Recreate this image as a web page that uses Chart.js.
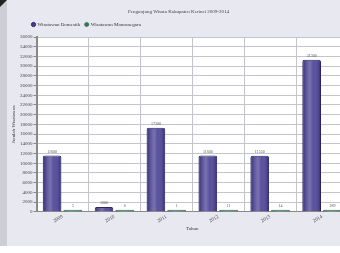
<!DOCTYPE html>
<html>
<head>
<meta charset="utf-8">
<title>Pengunjung Wisata Kabupaten Kerinci</title>
<script src="https://cdn.jsdelivr.net/npm/chart.js@4.4.1/dist/chart.umd.min.js"></script>
<style>
    html, body { margin: 0; padding: 0; background: #ffffff; }
    #wrap { position: relative; width: 340px; height: 253px; overflow: hidden; }
    #frame { position: absolute; left: 0; top: 0; width: 340px; height: 246px; background: #e8e8f1; }
    #strip { position: absolute; left: 0; top: 0; width: 7px; height: 246px; background: #cdcdd6; }
    #corner { position: absolute; left: 0; top: 0; width: 0; height: 0;
              border-top: 7px solid #222; border-right: 7px solid transparent; }
    #box { position: absolute; left: 0; top: 0; width: 348px; height: 246px; }
</style>
</head>
<body>
<div id="wrap">
    <div id="frame"></div>
    <div id="strip"></div>
    <div id="corner"></div>
    <div id="box"><canvas id="bar-chart"></canvas></div>
</div>
<script>
// chart data
const years = ['2009', '2010', '2011', '2012', '2013', '2014'];
const domestik = [11600, 1000, 17300, 11600, 11550, 31300];
const mancanegara = [3, 6, 1, 11, 14, 289];
const yTicks = [0, 2000, 4000, 6000, 8000, 10000, 12000, 14000, 16000, 18000,
                20000, 22000, 24000, 26000, 28000, 30000, 32000, 34000, 36000];

const tinyFont = { family: 'Liberation Serif', size: 5, weight: 'normal' };

// shift legend to the right, like the original
const legendShift = {
    id: 'legendShift',
    beforeDraw(chart) {
        if (chart.legend && !chart.legend._shifted) {
            chart.legend.left += 18;
            chart.legend.right += 18;
            chart.legend._shifted = true;
        }
    }
};

// cylinder-like shine on the bars
const barShine = {
    id: 'barShine',
    afterDatasetsDraw(chart) {
        const ctx = chart.ctx;
        ctx.save();
        chart.data.datasets.forEach((ds, i) => {
            chart.getDatasetMeta(i).data.forEach(bar => {
                const half = bar.width / 2;
                const g = ctx.createLinearGradient(bar.x - half, 0, bar.x + half, 0);
                g.addColorStop(0, 'rgba(20,15,60,0.35)');
                g.addColorStop(0.4, 'rgba(255,255,255,0.28)');
                g.addColorStop(0.6, 'rgba(255,255,255,0.10)');
                g.addColorStop(1, 'rgba(20,15,60,0.40)');
                ctx.fillStyle = g;
                ctx.fillRect(bar.x - half + 0.5, bar.y + 1, bar.width - 1, bar.base - bar.y - 1);
            });
        });
        ctx.restore();
    }
};

// draws the number above every bar
const valueLabels = {
    id: 'valueLabels',
    afterDatasetsDraw(chart) {
        const ctx = chart.ctx;
        ctx.save();
        ctx.font = '4px "Liberation Serif"';
        ctx.fillStyle = '#555555';
        ctx.textAlign = 'center';
        ctx.textBaseline = 'bottom';
        chart.data.datasets.forEach((ds, i) => {
            chart.getDatasetMeta(i).data.forEach((bar, j) => {
                ctx.fillText(ds.data[j], bar.x, bar.y - 2);
            });
        });
        ctx.restore();
    }
};

// white plot background
const plotBackground = {
    id: 'plotBackground',
    beforeDraw(chart) {
        const a = chart.chartArea;
        chart.ctx.save();
        chart.ctx.fillStyle = '#ffffff';
        chart.ctx.fillRect(a.left, a.top, a.right - a.left, a.bottom - a.top);
        chart.ctx.restore();
    }
};

new Chart(document.getElementById('bar-chart'), {
    type: 'bar',
    data: {
        labels: years,
        datasets: [{
            label: 'Wisatawan Domestik',
            data: domestik,
            backgroundColor: '#463c93',
            borderColor: '#2a2466',
            borderWidth: 1,
            borderRadius: 2,
            borderSkipped: 'bottom'
        }, {
            label: 'Wisatawan Mancanegara',
            data: mancanegara,
            backgroundColor: '#2f7a55',
            borderColor: '#1f5a3c',
            borderWidth: 0.5,
            minBarLength: 2
        }]
    },
    options: {
        responsive: true,
        maintainAspectRatio: false,
        animation: false,
        layout: { padding: { left: 9, right: 0, top: 0, bottom: 14 } },
        plugins: {
            title: {
                display: true,
                text: 'Pengunjung Wisata Kabupaten Kerinci 2009-2014',
                color: '#444444',
                font: tinyFont,
                padding: { top: 9, bottom: 2 }
            },
            legend: {
                position: 'top',
                align: 'start',
                labels: {
                    usePointStyle: true,
                    pointStyle: 'circle',
                    boxWidth: 3,
                    boxHeight: 3,
                    padding: 5,
                    color: '#333333',
                    font: tinyFont
                }
            },
            tooltip: { enabled: false }
        },
        scales: {
            x: {
                grid: { color: '#c4c4cc', lineWidth: 1, offset: true, drawTicks: false },
                border: { color: '#888888' },
                ticks: { color: '#444444', font: tinyFont, maxRotation: 30, minRotation: 30, padding: 2 },
                title: { display: true, text: 'Tahun', color: '#333333', font: tinyFont, padding: 0 },
                categoryPercentage: 0.85,
                barPercentage: 0.95
            },
            y: {
                min: 0,
                max: 36000,
                afterBuildTicks(scale) {
                    scale.ticks = yTicks.map(v => ({ value: v }));
                },
                grid: { color: '#c4c4cc', lineWidth: 1, tickLength: 3, tickColor: '#888888' },
                border: { color: '#888888', width: 2 },
                ticks: { color: '#444444', font: tinyFont, padding: 1, callback: v => String(v) },
                title: { display: true, text: 'Jumlah Wisatawan', color: '#333333', font: tinyFont, padding: 2 }
            }
        }
    },
    plugins: [plotBackground, barShine, valueLabels, legendShift]
});
</script>
</body>
</html>
